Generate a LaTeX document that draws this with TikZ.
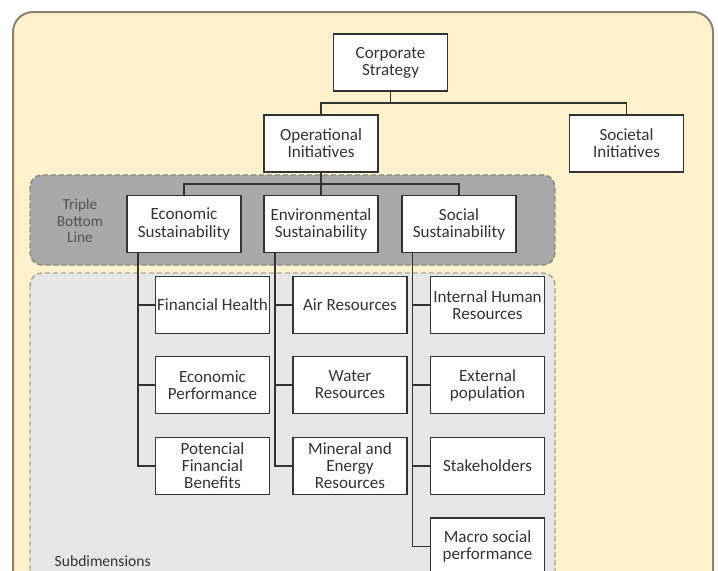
\documentclass[tikz,border=0pt]{standalone}
\usepackage{fontspec}
\setmainfont{Carlito}
\usepackage{xcolor}
\usepackage{tikz}
\usetikzlibrary{calc}
\definecolor{paleyellow}{HTML}{FFF2CC}
\definecolor{framegray}{HTML}{8B8271}
\definecolor{tblgray}{HTML}{A8A8A8}
\definecolor{tbledge}{HTML}{8C8A84}
\definecolor{subgray}{HTML}{E7E6E6}
\definecolor{subedge}{HTML}{ADA58A}
\definecolor{boxline}{HTML}{333333}
\definecolor{txtgray}{HTML}{333333}
\tikzset{tree/.style = {to path={|- ($(\tikztostart)!0.5!(\tikztotarget)$) -| (\tikztotarget)}}}
\begin{document}
\begin{tikzpicture}[x=0.75pt,y=-0.75pt,
  every node/.style={text=txtgray,font=\fontsize{12.8}{12.8}\selectfont},
  box/.style={draw=boxline,fill=white,line width=1.3pt,minimum width=85.5pt,minimum height=42.75pt,inner xsep=0.5pt,align=center},
  link/.style={draw=boxline,line width=1.3pt},
  region/.style={line width=1.1pt,dash pattern=on 4pt off 2pt,rounded corners=9pt}]
  \useasboundingbox (0,0) rectangle (718,571);
  \clip (0,0) rectangle (718,571);
  \draw[line width=1.5pt,draw=framegray,fill=paleyellow,rounded corners=15pt] (13,12) rectangle (713,620);
  \draw[region,draw=tbledge,fill=tblgray] (30,175) rectangle (555,265);
  \draw[region,draw=subedge,fill=subgray] (30,273) rectangle (555,620);
  \node[align=center,text=txtgray!85,font=\fontsize{11.5}{12.4}\selectfont] (tbl) at (80,221) {Triple\\Bottom\\Line};
  \node[anchor=base west,font=\fontsize{11.7}{12}\selectfont] (subd) at (50,566) {Subdimensions};
  % top levels
  \node[box] (corp) at (390.5,62.5) {Corporate\\Strategy};
  \node[box] (oper) at (321,143.5) {Operational\\Initiatives};
  \node[box] (soci) at (626.5,143.5) {Societal\\Initiatives};
  \node[box] (econ) at (184,224) {Economic\\Sustainability};
  \node[box] (envi) at (321,224) {Environmental\\Sustainability};
  \node[box] (socl) at (459,224) {Social\\Sustainability};
  % subdimensions
  \node[box] (fin) at (212.5,305) {Financial Health};
  \node[box] (perf) at (212.5,385) {Economic\\Performance};
  \node[box] (bene) at (212.5,466) {Potencial\\Financial\\Benefits};
  \node[box] (air) at (350,305) {Air Resources};
  \node[box] (water) at (350,385) {Water\\Resources};
  \node[box] (mine) at (350,466) {Mineral and\\Energy\\Resources};
  \node[box] (human) at (487.5,305) {Internal Human\\Resources};
  \node[box] (popu) at (487.5,385) {External\\population};
  \node[box] (stake) at (487.5,466) {Stakeholders};
  \node[box] (macro) at (487.5,546.5) {Macro social\\performance};
  \path[link] (corp.south) edge [tree] (oper.north) edge [tree] (soci.north);
  \path[link] (oper.south) edge [tree] (econ.north) edge [tree] (envi.north) edge [tree] (socl.north);
  \draw[link] ([xshift=9pt]econ.south west) |- (fin.west);
  \draw[link] ([xshift=9pt]econ.south west) |- (perf.west);
  \draw[link] ([xshift=9pt]econ.south west) |- (bene.west);
  \draw[link] ([xshift=9pt]envi.south west) |- (air.west);
  \draw[link] ([xshift=9pt]envi.south west) |- (water.west);
  \draw[link] ([xshift=9pt]envi.south west) |- (mine.west);
  \draw[link] ([xshift=8.5pt]socl.south west) |- (human.west);
  \draw[link] ([xshift=8.5pt]socl.south west) |- (popu.west);
  \draw[link] ([xshift=8.5pt]socl.south west) |- (stake.west);
  \draw[link] ([xshift=8.5pt]socl.south west) |- (macro.west);
\end{tikzpicture}
\end{document}
